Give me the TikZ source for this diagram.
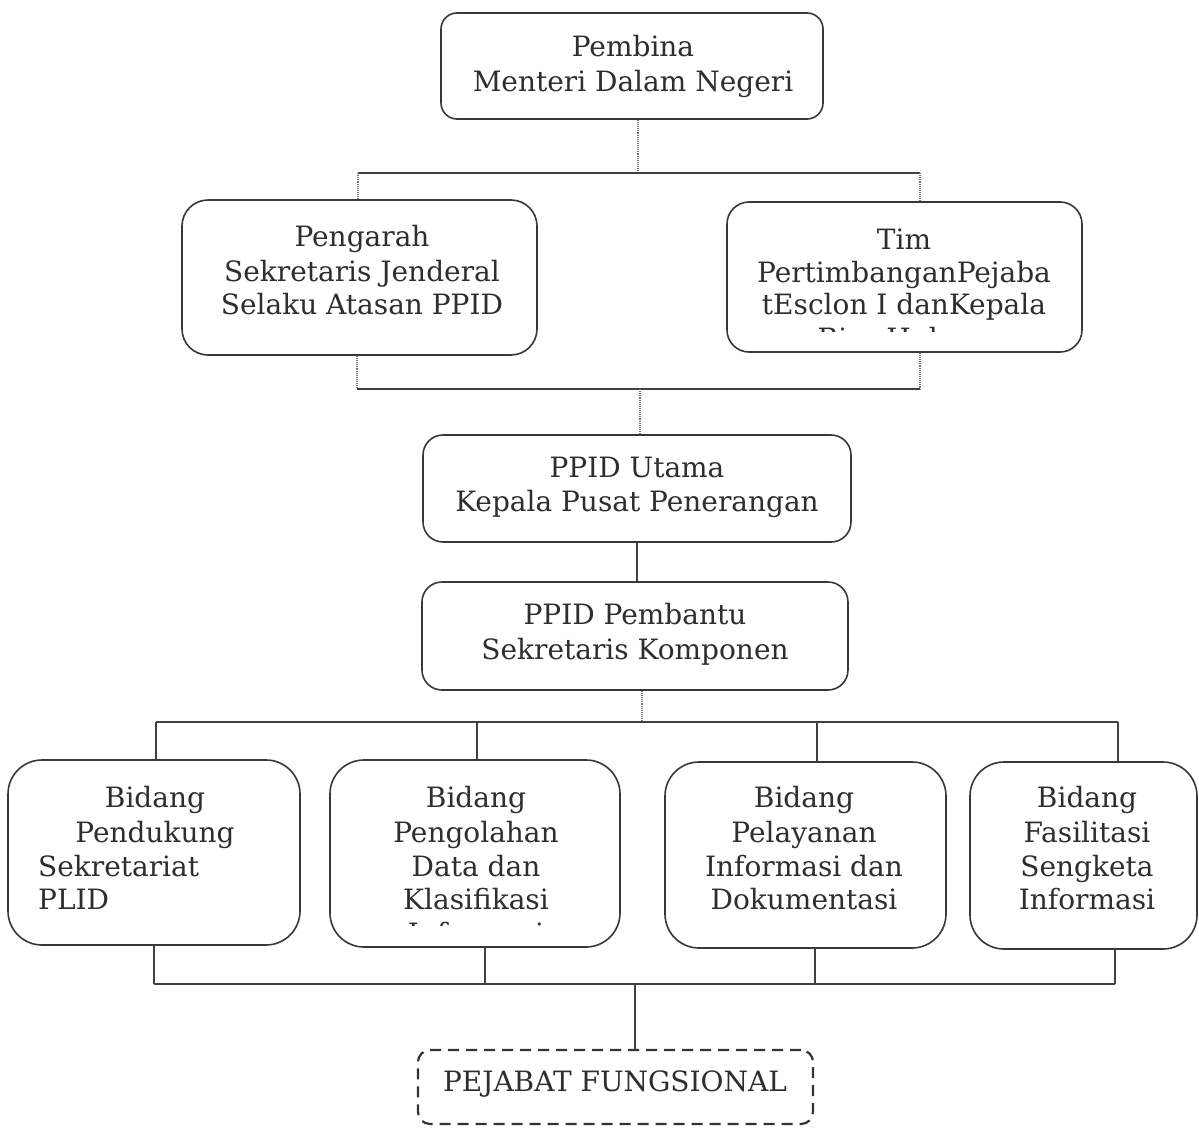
\documentclass[tikz,border=0pt]{standalone}
\usepackage{fontspec}
\setmainfont{DejaVu Serif}
\begin{document}
\begin{tikzpicture}[x=1pt,y=-1pt,
  box/.style={draw=black!78, line width=1.6pt, rounded corners=#1, inner sep=0pt, fill=none},
  box/.default=18pt,
  txt/.style={anchor=base, inner sep=0pt, text=black!82, font=\fontsize{28}{33}\selectfont},
  txtl/.style={txt, anchor=base west},
  conn/.style={draw=black!75, line width=1.4pt},
  faint/.style={draw=black!55, line width=1.1pt, densely dotted},
  dashbox/.style={draw=black!80, line width=2.2pt, dash pattern=on 11pt off 7pt, rounded corners=12pt}
]
\useasboundingbox[fill=white] (0,0) rectangle (1199,1127);
\newcommand\txtline[4]{\node[txt] (#1) at (#2,#3) {#4};}

% boxes
\node[box=16pt, minimum width=382pt, minimum height=106pt] (pembina) at (632,66) {};
\node[box=26pt, minimum width=355pt, minimum height=155pt] (pengarah) at (359.5,277.5) {};
\node[box=22pt, minimum width=355pt, minimum height=150pt] (tim) at (904.5,277) {};
\node[box=20pt, minimum width=428pt, minimum height=107pt] (utama) at (637,488.5) {};
\node[box=20pt, minimum width=426pt, minimum height=108pt] (pembantu) at (635,636) {};
\node[box=34pt, minimum width=292pt, minimum height=185pt] (b1) at (154,852.5) {};
\node[box=34pt, minimum width=290pt, minimum height=187pt] (b2) at (475,853.5) {};
\node[box=34pt, minimum width=281pt, minimum height=186pt] (b3) at (805.5,855) {};
\node[box=34pt, minimum width=227pt, minimum height=187pt] (b4) at (1083.5,855.5) {};
\node[dashbox, minimum width=395pt, minimum height=74pt, inner sep=0pt] (pejabat) at (615.5,1087) {};

% texts
\txtline{t1a}{633}{56}{Pembina}
\txtline{t1b}{633}{91}{Menteri Dalam Negeri}
\txtline{t2a}{362}{246}{Pengarah}
\txtline{t2b}{362}{281}{Sekretaris Jenderal}
\txtline{t2c}{362}{314}{Selaku Atasan PPID}
\txtline{t3a}{904}{249}{Tim}
\txtline{t3b}{904}{282}{PertimbanganPejaba}
\txtline{t3c}{904}{314}{tEsclon I danKepala}
\begin{scope}
  \clip (727,200) rectangle (1082,331);
  \txtline{t3d}{904}{348}{Biro Hukum}
\end{scope}
\txtline{t4a}{637}{477}{PPID Utama}
\txtline{t4b}{637}{511}{Kepala Pusat Penerangan}
\txtline{t5a}{635}{624}{PPID Pembantu}
\txtline{t5b}{635}{659}{Sekretaris Komponen}
\txtline{b1a}{155}{807}{Bidang}
\txtline{b1b}{155}{842}{Pendukung}
\node[txtl] (b1c) at (38,876) {Sekretariat};
\node[txtl] (b1d) at (38,909) {PLID};
\txtline{b2a}{476}{807}{Bidang}
\txtline{b2b}{476}{842}{Pengolahan}
\txtline{b2c}{476}{876}{Data dan}
\txtline{b2d}{476}{909}{Klasifikasi}
\begin{scope}
  \clip (330,880) rectangle (620,925);
  \txtline{b2e}{476}{943}{Informasi}
\end{scope}
\txtline{b3a}{804}{807}{Bidang}
\txtline{b3b}{804}{842}{Pelayanan}
\txtline{b3c}{804}{876}{Informasi dan}
\txtline{b3d}{804}{909}{Dokumentasi}
\txtline{b4a}{1087}{807}{Bidang}
\txtline{b4b}{1087}{842}{Fasilitasi}
\txtline{b4c}{1087}{876}{Sengketa}
\txtline{b4d}{1087}{909}{Informasi}
\txtline{t6}{615}{1091}{PEJABAT FUNGSIONAL}

% junctions
\coordinate (j1) at (638,173);
\coordinate (j1l) at (358,173);
\coordinate (j1r) at (920,173);
\coordinate (j2) at (640,389);
\coordinate (j2l) at (357,389);
\coordinate (j2r) at (920,389);
\coordinate (j3) at (642,722);
\coordinate (j3a) at (156,722);
\coordinate (j3b) at (477,722);
\coordinate (j3c) at (817,722);
\coordinate (j3d) at (1118,722);
\coordinate (j4) at (635,984);
\coordinate (j4a) at (154,984);
\coordinate (j4b) at (485,984);
\coordinate (j4c) at (815,984);
\coordinate (j4d) at (1115,984);

% connectors
\draw[faint] (j1 |- pembina.south) -- (j1);
\draw[conn] (j1l) -- (j1r);
\draw[faint] (j1l) -- (j1l |- pengarah.north);
\draw[faint] (j1r) -- (j1r |- tim.north);
\draw[faint] (j2l |- pengarah.south) -- (j2l);
\draw[faint] (j2r |- tim.south) -- (j2r);
\draw[conn] (j2l) -- (j2r);
\draw[faint] (j2) -- (j2 |- utama.north);
\draw[conn] (utama.south) -- (utama.south |- pembantu.north);
\draw[faint] (j3 |- pembantu.south) -- (j3);
\draw[conn] (j3a) -- (j3d);
\draw[conn] (j3a) -- (j3a |- b1.north);
\draw[conn] (j3b) -- (j3b |- b2.north);
\draw[conn] (j3c) -- (j3c |- b3.north);
\draw[conn] (j3d) -- (j3d |- b4.north);
\draw[conn] (j4a |- b1.south) -- (j4a);
\draw[conn] (j4b |- b2.south) -- (j4b);
\draw[conn] (j4c |- b3.south) -- (j4c);
\draw[conn] (j4d |- b4.south) -- (j4d);
\draw[conn] (j4a) -- (j4d);
\draw[conn] (j4) -- (j4 |- pejabat.north);
\end{tikzpicture}
\end{document}
